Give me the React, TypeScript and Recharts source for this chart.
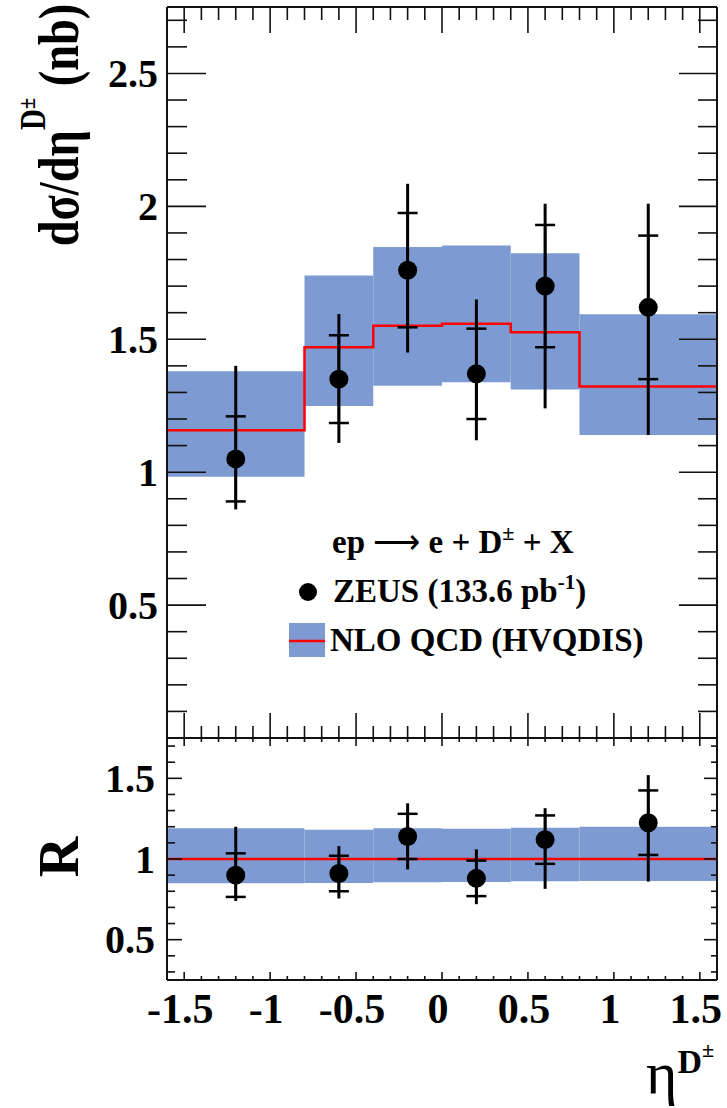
import React from "react";
import {
  ComposedChart,
  XAxis,
  YAxis,
  Line,
  Scatter,
  ErrorBar,
  ReferenceArea,
  Legend,
} from "recharts";

// bins in eta(D+-)
const binLo = [-1.6, -0.8, -0.4, 0, 0.4, 0.8];
const binHi = [-0.8, -0.4, 0, 0.4, 0.8, 1.6];
const etaCentre = [-1.2, -0.6, -0.2, 0.2, 0.6, 1.2];

// ZEUS data, dsigma/deta (nb)
const xsec = [1.05, 1.35, 1.76, 1.37, 1.7, 1.62];
const xsecStat = [0.16, 0.165, 0.215, 0.17, 0.23, 0.27];
const xsecTotUp = [0.35, 0.245, 0.325, 0.28, 0.31, 0.39];
const xsecTotDown = [0.19, 0.24, 0.31, 0.25, 0.46, 0.48];

// NLO QCD (HVQDIS) central value and uncertainty band
const nlo = [1.158, 1.47, 1.551, 1.558, 1.526, 1.322];
const nloUp = [1.38, 1.74, 1.847, 1.853, 1.824, 1.594];
const nloDown = [0.983, 1.249, 1.325, 1.338, 1.311, 1.14];

// ratio data / NLO
const ratio = [0.9, 0.91, 1.14, 0.88, 1.12, 1.225];
const ratioStat = [0.135, 0.11, 0.14, 0.11, 0.15, 0.2];
const ratioTotUp = [0.3, 0.17, 0.205, 0.18, 0.195, 0.295];
const ratioTotDown = [0.16, 0.155, 0.205, 0.16, 0.305, 0.365];
const ratioNlo = [1, 1, 1, 1, 1, 1];
const ratioBandUp = [1.19, 1.182, 1.19, 1.188, 1.194, 1.2];
const ratioBandDown = [0.85, 0.852, 0.856, 0.858, 0.862, 0.864];

const xTicks = [-1.5, -1.4, -1.3, -1.2, -1.1, -1, -0.9, -0.8, -0.7, -0.6, -0.5, -0.4, -0.3, -0.2, -0.1, 0,
  0.1, 0.2, 0.3, 0.4, 0.5, 0.6, 0.7, 0.8, 0.9, 1, 1.1, 1.2, 1.3, 1.4, 1.5];
const steps = (a: number, b: number) => {
  const out: number[] = [];
  for (let i = Math.round(a * 10); i <= Math.round(b * 10); i++) out.push(i / 10);
  return out;
};
const yTicksTop = steps(0.1, 2.7);
const yTicksBottom = steps(0.3, 1.7);

const BAND = "#7d9bd2";
const RED = "#ff0000";
const INK = "#111";
const SERIF = "'Liberation Serif', 'Times New Roman', serif";

type TickOpts = {
  side: "left" | "right" | "top" | "bottom";
  major: number;
  minor: number;
  label?: boolean;
  gap?: number;
  fontSize?: number;
};

const makeTick = (o: TickOpts) => (props: any) => {
  const { x, y, payload } = props;
  const v = payload.value;
  const isMajor = Math.abs(v * 2 - Math.round(v * 2)) < 1e-6;
  const len = isMajor ? o.major : o.minor;
  let x2 = x;
  let y2 = y;
  if (o.side === "left") x2 = x + len;
  if (o.side === "right") x2 = x - len;
  if (o.side === "top") y2 = y + len;
  if (o.side === "bottom") y2 = y - len;
  const fs = o.fontSize || 40;
  let label = null;
  if (o.label && isMajor) {
    if (o.side === "left") {
      label = (
        <text x={x - (o.gap || 9)} y={y + fs * 0.34} textAnchor="end" fontSize={fs} fontWeight="bold" fontFamily={SERIF} fill="#000">
          {String(v)}
        </text>
      );
    } else if (o.side === "bottom") {
      label = (
        <text x={x - 4} y={y + (o.gap || 43)} textAnchor="middle" fontSize={fs} fontWeight="bold" fontFamily={SERIF} fill="#000">
          {String(v)}
        </text>
      );
    }
  }
  return (
    <g>
      <line x1={x} y1={y} x2={x2} y2={y2} stroke={INK} strokeWidth={1.6} />
      {label}
    </g>
  );
};

const frame = { stroke: INK, strokeWidth: 2 };

const dot = (p: any) => <circle cx={p.cx} cy={p.cy} r={9.5} fill="#000" />;

const renderLegend = () => (
  <svg width={440} height={160} style={{ display: "block" }}>
    <text x={52} y={43} fontSize={33} fontWeight="bold" fontFamily={SERIF}>
      ep<tspan fontWeight="normal"> ⟶ </tspan>e + D<tspan dy={-13} fontSize={22}>±</tspan>
      <tspan dy={13}> + X</tspan>
    </text>
    <circle cx={28} cy={82} r={9} fill="#000" />
    <text x={53} y={92} fontSize={33} fontWeight="bold" fontFamily={SERIF}>
      ZEUS (133.6 pb<tspan dy={-13} fontSize={21}>-1</tspan>
      <tspan dy={13}>)</tspan>
    </text>
    <rect x={9} y={113} width={36} height={34} fill={BAND} />
    <line x1={9} y1={131} x2={45} y2={131} stroke={RED} strokeWidth={2.5} />
    <text x={50} y={141} fontSize={33} fontWeight="bold" fontFamily={SERIF}>
      NLO QCD (HVQDIS)
    </text>
  </svg>
);

const axisCommon = {
  interval: 0 as const,
  tickSize: 0,
  tickMargin: 0,
  tickLine: false,
  axisLine: frame,
  allowDataOverflow: true,
  type: "number" as const,
};

export default function App() {
  const edges = [...binLo, binHi[binHi.length - 1]];
  const lineTop = edges.map((x, i) => ({ x, y: nlo[Math.min(i, nlo.length - 1)] }));
  const lineBottom = edges.map((x, i) => ({ x, y: ratioNlo[Math.min(i, ratioNlo.length - 1)] }));
  const topPts = etaCentre.map((x, i) => ({
    x,
    y: xsec[i],
    stat: xsecStat[i],
    tot: [xsecTotDown[i], xsecTotUp[i]],
  }));
  const bottomPts = etaCentre.map((x, i) => ({
    x,
    y: ratio[i],
    stat: ratioStat[i],
    tot: [ratioTotDown[i], ratioTotUp[i]],
  }));

  return (
    <div style={{ position: "relative", width: 727, height: 1108, background: "#fff" }}>
      <style>{`body{margin:0;}`}</style>

      {/* upper panel: cross section */}
      <div style={{ position: "absolute", left: 0, top: 0 }}>
        <ComposedChart width={727} height={745} margin={{ top: 6, right: 9, bottom: 6, left: 166 }}>
          {binLo.map((lo, i) => (
            <ReferenceArea key={i} xAxisId="b" yAxisId="l" x1={lo} x2={binHi[i]} y1={nloDown[i]} y2={nloUp[i]}
              fill={BAND} fillOpacity={1} stroke="none" ifOverflow="visible" />
          ))}
          <Line xAxisId="b" yAxisId="l" data={lineTop} dataKey="y" type="stepAfter" stroke={RED}
            strokeWidth={2.5} dot={false} isAnimationActive={false} />
          <Scatter xAxisId="b" yAxisId="l" data={topPts} dataKey="y" shape={dot} isAnimationActive={false}>
            <ErrorBar dataKey="tot" direction="y" width={0} stroke="#000" strokeWidth={3} isAnimationActive={false} />
            <ErrorBar dataKey="stat" direction="y" width={10} stroke="#000" strokeWidth={2.5} isAnimationActive={false} />
          </Scatter>
          <XAxis {...axisCommon} xAxisId="b" dataKey="x" domain={[-1.6, 1.6]} ticks={xTicks} height={1}
            tick={makeTick({ side: "bottom", major: 25, minor: 12 })} />
          <XAxis {...axisCommon} xAxisId="t" orientation="top" dataKey="x" domain={[-1.6, 1.6]} ticks={xTicks}
            height={1} tick={makeTick({ side: "top", major: 26, minor: 13 })} />
          <YAxis {...axisCommon} yAxisId="l" domain={[0, 2.75]} ticks={yTicksTop} width={1}
            tick={makeTick({ side: "left", major: 39, minor: 20, label: true, gap: 9 })} />
          <YAxis {...axisCommon} yAxisId="r" orientation="right" domain={[0, 2.75]} ticks={yTicksTop} width={1}
            tick={makeTick({ side: "right", major: 38, minor: 19 })} />
          <Legend layout="horizontal" align="center" verticalAlign="middle" content={renderLegend}
            wrapperStyle={{ position: "absolute", left: 280, top: 510, width: 440, height: 160 }} />
        </ComposedChart>
      </div>

      {/* lower panel: ratio */}
      <div style={{ position: "absolute", left: 0, top: 730 }}>
        <ComposedChart width={727} height={378} margin={{ top: 7, right: 9, bottom: 127, left: 166 }}>
          {binLo.map((lo, i) => (
            <ReferenceArea key={i} xAxisId="b" yAxisId="l" x1={lo} x2={binHi[i]} y1={ratioBandDown[i]}
              y2={ratioBandUp[i]} fill={BAND} fillOpacity={1} stroke="none" ifOverflow="visible" />
          ))}
          <Line xAxisId="b" yAxisId="l" data={lineBottom} dataKey="y" type="stepAfter" stroke={RED}
            strokeWidth={2.5} dot={false} isAnimationActive={false} />
          <Scatter xAxisId="b" yAxisId="l" data={bottomPts} dataKey="y" shape={dot} isAnimationActive={false}>
            <ErrorBar dataKey="tot" direction="y" width={0} stroke="#000" strokeWidth={3} isAnimationActive={false} />
            <ErrorBar dataKey="stat" direction="y" width={10} stroke="#000" strokeWidth={2.5} isAnimationActive={false} />
          </Scatter>
          <XAxis {...axisCommon} xAxisId="b" dataKey="x" domain={[-1.6, 1.6]} ticks={xTicks} height={1}
            tick={makeTick({ side: "bottom", major: 8, minor: 4, label: true, gap: 43, fontSize: 42 })} />
          <XAxis {...axisCommon} xAxisId="t" orientation="top" dataKey="x" domain={[-1.6, 1.6]} ticks={xTicks}
            height={1} tick={makeTick({ side: "top", major: 8, minor: 4 })} />
          <YAxis {...axisCommon} yAxisId="l" domain={[0.25, 1.75]} ticks={yTicksBottom} width={1}
            tick={makeTick({ side: "left", major: 15, minor: 8, label: true, gap: 12 })} />
          <YAxis {...axisCommon} yAxisId="r" orientation="right" domain={[0.25, 1.75]} ticks={yTicksBottom} width={1}
            tick={makeTick({ side: "right", major: 13, minor: 6 })} />
        </ComposedChart>
      </div>

      {/* axis titles */}
      <svg width={727} height={1108} style={{ position: "absolute", left: 0, top: 0, pointerEvents: "none" }}>
        <text transform="translate(78 125) rotate(-90) scale(0.8 1)" x={0} y={0} textAnchor="middle" fontSize={58}
          fontWeight="bold" fontFamily={SERIF}>
          dσ/dη<tspan dy={-33} fontSize={36}>D</tspan>
          <tspan dy={-10} fontSize={26}>±</tspan>
          <tspan dy={43} fontSize={58}> (nb)</tspan>
        </text>
        <text transform="rotate(-90 78 857)" x={78} y={857} textAnchor="middle" fontSize={56} fontWeight="bold"
          fontFamily={SERIF}>
          R
        </text>
        <text x={646} y={1093} fontSize={60} fontFamily={SERIF}>
          η<tspan dy={-20} fontSize={34} fontWeight="bold">D</tspan>
          <tspan dy={-16} fontSize={22} fontWeight="bold">±</tspan>
        </text>
      </svg>
    </div>
  );
}
